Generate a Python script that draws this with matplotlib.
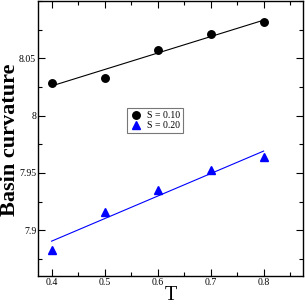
import matplotlib
matplotlib.use("Agg")
import matplotlib.pyplot as plt
from matplotlib.ticker import MultipleLocator

T = [0.4, 0.5, 0.6, 0.7, 0.8]
s010 = [8.028, 8.033, 8.0575, 8.0715, 8.0815]
s020 = [7.8825, 7.9157, 7.935, 7.9525, 7.9635]
fit010 = [8.0258, 8.0832]
fit020 = [7.8904, 7.969]
fitT = [0.4, 0.8]

plt.rcParams['font.family'] = ['Liberation Serif', 'DejaVu Serif']
fig = plt.figure(figsize=(3.05, 3.05), dpi=100)
ax = fig.add_axes([0.1256, 0.095, 0.869, 0.902])

ax.plot(T, s010, 'o', color='black', markersize=5.4, label='S = 0.10', linestyle='none')
ax.plot(T, s020, '^', color='blue', markersize=5.4, label='S = 0.20', linestyle='none')
ax.plot(fitT, fit010, '-', color='black', linewidth=0.8)
ax.plot(fitT, fit020, '-', color='blue', linewidth=0.8)

ax.set_xlim(0.375, 0.875)
ax.set_ylim(7.86, 8.1)
ax.xaxis.set_minor_locator(MultipleLocator(0.05))
ax.yaxis.set_minor_locator(MultipleLocator(0.025))
ax.set_xticks([0.4, 0.5, 0.6, 0.7, 0.8])
ax.set_xticklabels(['0.4', '0.5', '0.6', '0.7', '0.8'])
ax.set_yticks([7.9, 7.95, 8.0, 8.05])
ax.set_yticklabels(['7.9', '7.95', '8', '8.05'])
ax.tick_params(which='both', direction='in', top=True, right=True, labelsize=7, width=0.8, pad=1.5)
ax.tick_params(which='major', length=5)
ax.tick_params(which='minor', length=3)
for sp in ax.spines.values():
    sp.set_linewidth(1.0)

ax.set_xlabel('T', fontsize=14.5)
ax.xaxis.set_label_coords(0.5, -0.104)
ax.xaxis.label.set_va('bottom')
ax.set_ylabel('Basin curvature', fontsize=16, fontweight='bold')
ax.yaxis.label.set_va('baseline')
ax.yaxis.set_label_coords(-0.088, 0.494)

leg = ax.legend(loc='upper left', bbox_to_anchor=(0.334, 0.609), borderaxespad=0,
                fontsize=7, frameon=True, fancybox=False, handlelength=1.2,
                handletextpad=0.6, borderpad=0.3, labelspacing=0.1)
leg.get_frame().set_edgecolor('#555555')
leg.get_frame().set_linewidth(0.8)

fig.savefig('out.png', dpi=100)
